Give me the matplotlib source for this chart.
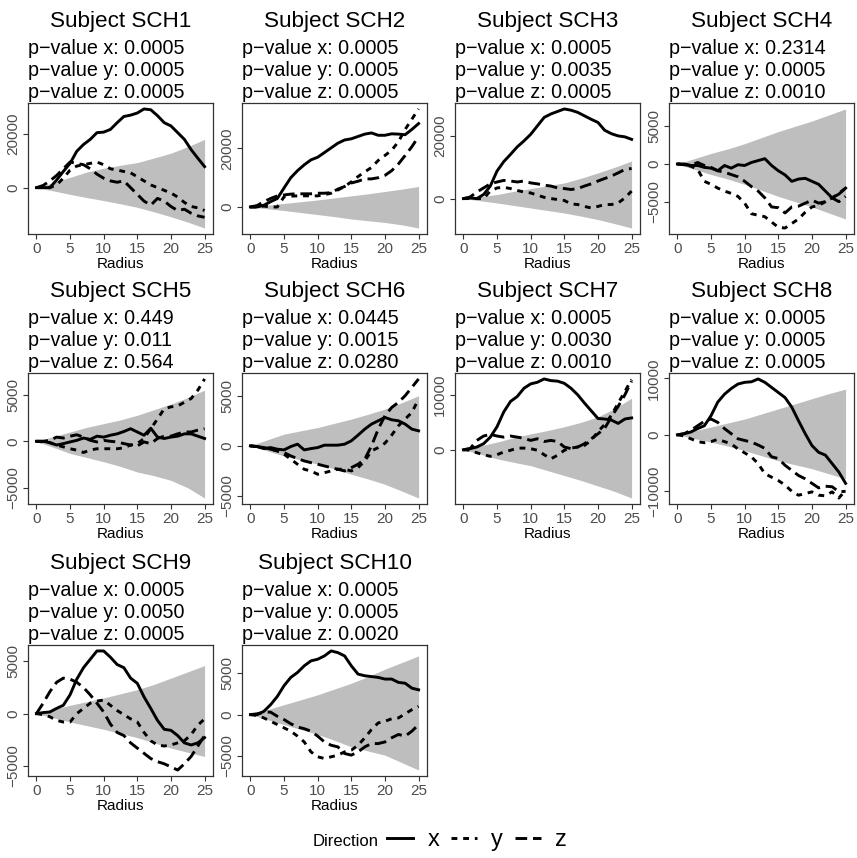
import matplotlib
matplotlib.use("Agg")
import matplotlib.pyplot as plt
from matplotlib.lines import Line2D
import numpy as np

plt.rcParams['font.family'] = ['Liberation Sans', 'DejaVu Sans']

# ---------------- data ----------------
subjects = ['SCH1', 'SCH2', 'SCH3', 'SCH4', 'SCH5', 'SCH6', 'SCH7', 'SCH8', 'SCH9', 'SCH10']
pval_x = ['0.0005', '0.0005', '0.0005', '0.2314', '0.449', '0.0445', '0.0005', '0.0005', '0.0005', '0.0005']
pval_y = ['0.0005', '0.0005', '0.0035', '0.0005', '0.011', '0.0015', '0.0030', '0.0005', '0.0050', '0.0005']
pval_z = ['0.0005', '0.0005', '0.0005', '0.0010', '0.564', '0.0280', '0.0010', '0.0005', '0.0005', '0.0020']

radius = [0, 1, 2, 3, 4, 5, 6, 7, 8, 9, 10, 11, 12, 13, 14, 15, 16, 17, 18, 19, 20, 21, 22, 23, 24, 25]
env_radius = [0, 2.5, 5, 7.5, 10, 12.5, 15, 17.5, 20, 22.5, 25]

sch1_x = [0, 0, 0, 2800, 6000, 9000, 13500, 16000, 17900, 20400, 20600, 21600, 24100, 26400, 26900, 27700, 29200, 28900, 26700, 24100, 22900, 20400, 17900, 14100, 10900, 7800]
sch1_y = [0, 0, 0, 1000, 3500, 6500, 8000, 8500, 9000, 9500, 8500, 7000, 6500, 6000, 5500, 4000, 2500, 1000, 0, -1000, -2000, -3500, -5500, -7000, -7500, -8500]
sch1_z = [0, 800, 2500, 4500, 7000, 9500, 9000, 8500, 7000, 5000, 3500, 2500, 2000, 2500, 0, -2500, -5000, -6500, -4000, -5000, -7000, -8500, -8000, -9500, -10500, -11000]
sch1_up = [0, 1800, 3800, 5800, 7200, 8300, 9300, 11000, 12800, 15200, 17900]
sch1_lo = [0, -1200, -2500, -3700, -4800, -6000, -7300, -9000, -10800, -12800, -15000]

sch2_x = [0, 0, 600, 1800, 2900, 6500, 10000, 12400, 14400, 16100, 17000, 18600, 20200, 21800, 22900, 23300, 24100, 24900, 25300, 24500, 24500, 25000, 24900, 24700, 26500, 28500]
sch2_y = [0, 0, 300, 0, 0, 3500, 3700, 3800, 3800, 3800, 3800, 4200, 4700, 5800, 7000, 8600, 10400, 12000, 13500, 15900, 17600, 19400, 22300, 26500, 30000, 33500]
sch2_z = [0, 500, 1800, 2900, 3800, 4100, 4400, 4500, 4500, 4500, 4700, 4700, 4900, 6100, 7000, 8200, 8800, 9600, 9600, 10000, 10800, 12400, 14700, 17600, 20600, 24100]
sch2_up = [0, 600, 1200, 1800, 2400, 3100, 3800, 4500, 5300, 6100, 7000]
sch2_lo = [0, -600, -1200, -1900, -2600, -3300, -4100, -4700, -5300, -6100, -7200]

sch3_x = [0, 200, 0, 1300, 4000, 8800, 11800, 14100, 16500, 18400, 20500, 23200, 25900, 27000, 27800, 28600, 28200, 27500, 26400, 25300, 24300, 21800, 20700, 20000, 19700, 18900]
sch3_y = [0, 0, 0, 0, 2400, 3400, 3600, 3200, 2600, 2100, 1800, 1100, 400, 0, -300, -600, -1700, -1900, -2500, -3000, -2500, -1900, -1900, -1400, 200, 2400]
sch3_z = [0, 500, 2100, 3400, 4700, 5300, 5800, 5600, 5300, 5600, 5000, 4700, 4300, 4000, 3400, 3200, 2900, 3200, 4000, 4700, 5600, 6400, 7200, 8200, 9300, 9600]
sch3_up = [0, 600, 1300, 2300, 3200, 4100, 5000, 6500, 8200, 10000, 12000]
sch3_lo = [0, -700, -1400, -2200, -3000, -3800, -4600, -5600, -6700, -8000, -9400]

sch4_x = [0, 0, -200, -200, -450, -550, -900, -200, -550, -100, -200, 200, 450, 700, -200, -900, -1450, -2300, -2000, -1900, -2300, -2700, -3600, -4500, -4000, -3200]
sch4_y = [0, -100, -300, -700, -2300, -2700, -3200, -3600, -3900, -4300, -5200, -6600, -6800, -7000, -7700, -8400, -8500, -7900, -7300, -6400, -5700, -5500, -5000, -4500, -3900, -3200]
sch4_z = [0, -100, -200, 200, -200, -450, -900, -1100, -1400, -1700, -2300, -3000, -3600, -4500, -5700, -5800, -6500, -5700, -5600, -5200, -4800, -5200, -5000, -4500, -5000, -4300]
sch4_up = [0, 700, 1400, 2000, 2700, 3500, 4300, 5000, 5700, 6500, 7300]
sch4_lo = [0, -700, -1400, -2000, -2700, -3500, -4300, -5000, -5700, -6500, -7300]

sch5_x = [0, 0, -150, -400, -250, -70, 100, 350, 200, 550, 450, 650, 800, 1050, 1350, 1000, 650, 1400, 450, 300, 450, 550, 800, 800, 550, 300]
sch5_y = [0, -70, -150, -400, -600, -800, -950, -1200, -950, -800, -800, -800, -800, -700, -400, -250, 300, 1350, 2400, 3500, 3700, 3800, 4200, 4600, 5500, 6700]
sch5_z = [0, 0, 100, 450, 350, 550, 700, 450, 100, -70, 100, 0, -70, -250, -400, -500, -70, -250, 300, 550, 550, 800, 1000, 1000, 1200, 1350]
sch5_up = [0, 500, 1000, 1500, 1900, 2300, 2800, 3400, 4000, 4700, 5500]
sch5_lo = [0, -650, -1300, -1750, -2200, -2700, -3300, -3700, -4200, -5000, -6100]

sch6_x = [0, -70, -270, -170, -330, -400, -70, 170, -400, -270, -170, 70, 70, 70, 170, 500, 1070, 1670, 2170, 2500, 2830, 2600, 2500, 2170, 1670, 1500]
sch6_y = [0, -70, -170, -330, -500, -830, -1330, -1830, -2330, -2500, -2830, -2670, -2500, -2330, -2330, -2500, -2170, -1500, -500, -170, 270, 1070, 2000, 2670, 3330, 4670]
sch6_z = [0, -70, -170, -330, -500, -670, -1000, -1270, -1500, -1670, -1830, -2000, -2170, -2330, -2500, -2170, -1830, -1330, 0, 1670, 3000, 3830, 4330, 5000, 5830, 6670]
sch6_up = [0, 600, 1170, 1500, 1830, 2250, 2670, 3150, 3670, 4300, 5000]
sch6_lo = [0, -500, -1000, -1400, -1830, -2300, -2830, -3300, -3830, -4500, -5200]

sch7_x = [0, 200, 500, 1100, 2300, 4200, 6900, 8800, 9700, 11200, 12000, 12300, 12900, 12600, 12500, 12100, 11200, 10000, 8500, 7100, 5700, 5600, 5400, 4800, 5600, 5800]
sch7_y = [0, -100, -550, -900, -1200, -900, -400, -100, 300, 300, 200, -100, -900, -1650, -1000, -100, 300, 500, 800, 1700, 3300, 4600, 6300, 8500, 10600, 12800]
sch7_z = [0, 200, 1700, 2500, 2800, 2500, 2300, 2500, 2300, 2100, 1700, 2000, 1500, 1700, 1500, 500, 200, 500, 1100, 2000, 2900, 3900, 6000, 7900, 10000, 12500]
sch7_up = [0, 700, 1400, 2200, 2900, 3500, 4200, 5000, 6000, 7500, 9400]
sch7_lo = [0, -800, -1650, -2300, -2900, -3800, -4700, -5600, -6600, -7600, -8800]

sch8_x = [0, 200, 500, 1100, 1600, 3400, 5800, 7200, 8200, 9000, 9300, 9400, 9900, 9300, 8400, 7500, 6600, 4900, 2500, 200, -1900, -3100, -3600, -5100, -6600, -8600]
sch8_y = [0, -200, -700, -1200, -1400, -1200, -800, -1200, -1600, -2500, -3200, -3900, -5100, -6900, -7500, -8100, -8900, -10000, -10700, -10400, -10100, -10700, -10800, -10100, -11200, -9800]
sch8_z = [0, 200, 800, 1600, 2400, 2800, 2200, 1100, 200, -700, -1000, -1300, -1800, -2400, -3900, -4200, -5400, -6300, -7200, -7800, -8600, -9400, -9100, -9200, -10100, -10000]
sch8_up = [0, 700, 1400, 2100, 2800, 3700, 4600, 5500, 6400, 7300, 8100]
sch8_lo = [0, -650, -1300, -2000, -2800, -3700, -4600, -5300, -6000, -6900, -7800]

sch9_x = [0, 100, 160, 500, 800, 1800, 3300, 4400, 5200, 6000, 6000, 5400, 4700, 4400, 3400, 2900, 1600, 500, -650, -1500, -1600, -2100, -2800, -3000, -2800, -2300]
sch9_y = [0, -100, -300, -650, -800, -800, 0, 500, 1000, 1200, 1300, 800, 300, -100, -500, -800, -1800, -2600, -3000, -3100, -3000, -2800, -2600, -2000, -1100, -500]
sch9_z = [0, 1000, 2100, 3000, 3400, 3300, 3000, 2500, 1800, 1000, 160, -1000, -1800, -2100, -2800, -3300, -3800, -4300, -4600, -4800, -5100, -5400, -4800, -4100, -3100, -2100]
sch9_up = [0, 400, 800, 1150, 1500, 1900, 2300, 2800, 3400, 4000, 4600]
sch9_lo = [0, -400, -800, -1150, -1500, -1900, -2300, -2800, -3300, -3700, -4100]

sch10_x = [0, 0, 400, 1200, 2200, 3500, 4500, 5100, 5900, 6500, 6700, 7100, 7700, 7500, 7100, 5900, 4900, 4700, 4600, 4500, 4300, 4300, 3900, 3800, 3200, 3000]
sch10_y = [0, -100, -400, -800, -1200, -1600, -2000, -2600, -3300, -4500, -5100, -5300, -5100, -4900, -4500, -4300, -3700, -2800, -1800, -1000, -800, -500, -400, 100, 600, 1000]
sch10_z = [0, 100, 300, 300, -200, -600, -1100, -1500, -1700, -2000, -2600, -3300, -3700, -3900, -4700, -4900, -4500, -3900, -3500, -3500, -3300, -2800, -2400, -2600, -2000, -1200]
sch10_up = [0, 600, 1200, 1800, 2400, 3100, 3800, 4600, 5500, 6300, 7100]
sch10_lo = [0, -600, -1200, -1800, -2400, -3100, -3900, -4400, -4900, -5800, -6700]

x_series = [sch1_x, sch2_x, sch3_x, sch4_x, sch5_x, sch6_x, sch7_x, sch8_x, sch9_x, sch10_x]
y_series = [sch1_y, sch2_y, sch3_y, sch4_y, sch5_y, sch6_y, sch7_y, sch8_y, sch9_y, sch10_y]
z_series = [sch1_z, sch2_z, sch3_z, sch4_z, sch5_z, sch6_z, sch7_z, sch8_z, sch9_z, sch10_z]
env_upper = [sch1_up, sch2_up, sch3_up, sch4_up, sch5_up, sch6_up, sch7_up, sch8_up, sch9_up, sch10_up]
env_lower = [sch1_lo, sch2_lo, sch3_lo, sch4_lo, sch5_lo, sch6_lo, sch7_lo, sch8_lo, sch9_lo, sch10_lo]

y_ticks = [[0, 20000], [0, 20000], [0, 20000], [-5000, 0, 5000], [-5000, 0, 5000],
           [-5000, 0, 5000], [0, 10000], [-10000, 0, 10000], [-5000, 0, 5000], [-5000, 0, 5000]]
x_ticks = [0, 5, 10, 15, 20, 25]
directions = ['x', 'y', 'z']

# ---------------- style / layout ----------------
W, H = 857, 858
fig = plt.figure(figsize=(W / 100, H / 100), dpi=100)
fig.patch.set_facecolor('white')

box_left = [28, 242, 455, 669]
box_top = [103, 373, 645]
box_w, box_h = 185, 131

LW = 2.1
styles = {'x': '-', 'y': (0, (2, 2)), 'z': (0, (4, 2))}
tick_col = '#4D4D4D'
frame_col = '#333333'


def fmt(v):
    s = '%d' % abs(v)
    return ('\u2212' + s) if v < 0 else s


for i, subj in enumerate(subjects):
    r, c = divmod(i, 4)
    l, t = box_left[c], box_top[r]
    ax = fig.add_axes([l / W, 1 - (t + box_h) / H, box_w / W, box_h / H])
    ax.fill_between(env_radius, env_lower[i], env_upper[i], color='#BEBEBE', lw=0, zorder=1)
    for d, ser in zip(directions, [x_series[i], y_series[i], z_series[i]]):
        ax.plot(radius, ser, color='black', lw=LW, ls=styles[d], zorder=3,
                solid_joinstyle='round')
    allv = np.concatenate([x_series[i], y_series[i], z_series[i], env_upper[i], env_lower[i]])
    lo, hi = allv.min(), allv.max()
    pad = 0.05 * (hi - lo)
    ax.set_ylim(lo - pad, hi + pad)
    ax.set_xlim(-1.25, 26.25)
    ax.set_xticks(x_ticks)
    ax.set_xticklabels([str(v) for v in x_ticks])
    ax.set_yticks(y_ticks[i])
    ax.set_yticklabels([fmt(v) for v in y_ticks[i]], rotation=90, va='center')
    ax.tick_params(axis='both', colors=frame_col, labelcolor=tick_col, labelsize=11,
                   length=3.5, width=0.8, pad=2)
    for sp in ax.spines.values():
        sp.set_color(frame_col)
        sp.set_linewidth(0.9)
    ax.set_xlabel('Radius', fontsize=11, labelpad=1, color='black')
    # titles
    fig.text((l + box_w / 2) / W, 1 - (t - 81) / H, 'Subject ' + subj,
             ha='center', va='center', fontsize=16.2)
    for k, (d, pv) in enumerate(zip(directions, [pval_x[i], pval_y[i], pval_z[i]])):
        fig.text(l / W, 1 - (t - 54 + 21.5 * k) / H, 'p\u2212value %s: %s' % (d, pv),
                 ha='left', va='center', fontsize=14.2)

# legend
fig.text(346 / W, 1 - 842 / H, 'Direction', ha='center', va='center', fontsize=12)
handles = [Line2D([], [], color='black', lw=LW, ls=styles[d]) for d in directions]
fig.legend(handles, directions, loc='center', bbox_to_anchor=(477 / W, 1 - 840 / H),
           ncol=3, frameon=False, fontsize=17, handlelength=1.1, handletextpad=0.6,
           columnspacing=0.5, borderpad=0)

fig.savefig('out.png', dpi=100, facecolor='white')
